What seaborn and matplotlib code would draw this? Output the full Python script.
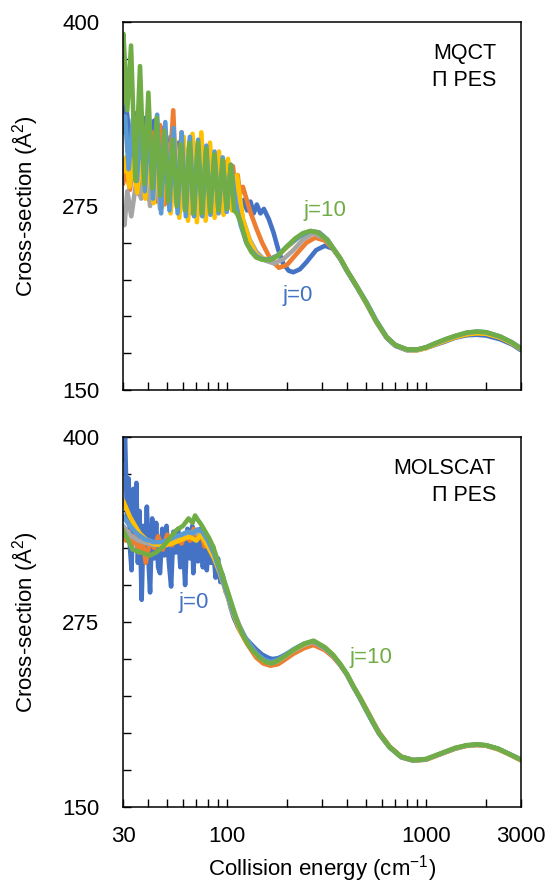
import pandas as pd
import matplotlib.pyplot as plt
import matplotlib as mtl
import seaborn as sns

# series (rotational level) and Excel-like colours
j_levels = ["j=0", "j=2", "j=4", "j=6", "j=8", "j=10"]
colors = ["#4472C4", "#ED7D31", "#A5A5A5", "#FFC000", "#5B9BD5", "#70AD47"]

# ---- MQCT panel (energies in cm-1, cross-sections in A^2) ----
# low-energy part, different for every j
mqct_E_j0 = [30, 31, 33, 35, 37, 39, 41, 43, 45, 47, 50, 52, 55, 57, 60, 63, 66, 69, 72, 76,
             80, 84, 88, 92, 96, 100, 105, 110, 116, 121, 126, 131, 136, 141, 147, 153, 162, 171, 181, 191,
             204, 215, 232, 251, 280, 310, 340]
mqct_j0 = [328, 345, 310, 338, 305, 335, 300, 333, 296, 328, 292, 322, 288, 318, 285, 313, 282, 308, 279, 303,
           276, 298, 274, 292, 271, 288, 280, 284, 272, 279, 272, 278, 270, 276, 270, 273, 266, 257, 245, 236,
           231, 230, 232, 237, 245, 248, 246]

mqct_E_j2 = [30, 31, 32.5, 34, 36, 38, 40, 42, 44, 46, 48.5, 51, 53.6, 56, 59, 62, 65, 68, 72, 76,
             80, 84, 88, 92, 97, 102, 107, 110, 113, 116, 120, 130, 140, 150, 165, 182, 200, 225, 250, 277,
             310, 340]
mqct_j2 = [290, 300, 286, 310, 283, 318, 280, 325, 278, 330, 276, 290, 340, 274, 325, 272, 320, 270, 316, 270,
           312, 271, 308, 272, 305, 274, 302, 285, 296, 283, 288, 272, 260, 250, 239, 233, 235, 243, 250, 253.5,
           251.5, 246]

mqct_E_j4 = [30, 30.5, 31.5, 33, 35, 37, 39, 41, 43.5, 46, 49, 52, 55, 58, 62, 66, 70, 74, 79, 84,
             89, 95, 101, 107, 113, 120, 130, 140, 155, 172, 192, 215, 240, 270, 310, 340]
mqct_j4 = [272, 262, 285, 268, 292, 280, 305, 275, 310, 273, 312, 272, 314, 271, 313, 270, 312, 269, 309, 270,
           305, 271, 300, 272, 285, 266, 252, 244, 238, 236, 239, 245, 252, 256.5, 253, 246.5]

mqct_E_j6 = [30, 31, 32.3, 33.8, 35.3, 37, 38.8, 40.7, 42.7, 44.8, 47, 49.5, 52, 54.6, 57.5, 60.5, 63.6, 67, 70.5, 74.2,
             78, 82, 86.5, 91, 96, 101, 106, 112, 120, 130, 140, 150, 162, 180, 200, 230, 263, 290, 320, 340]
mqct_j6 = [298, 308, 288, 306, 284, 310, 280, 313, 277, 316, 274, 318, 270, 320, 267, 322, 265, 324, 264, 325,
           265, 318, 267, 312, 269, 307, 272, 296, 266, 251, 242, 239.5, 238.5, 241.5, 247, 254, 258, 257, 252, 246.5]

mqct_E_j8 = [30, 30.7, 32, 33.6, 35.2, 36.9, 38.6, 40.5, 42.4, 44.5, 46.6, 48.9, 51.3, 53.8, 56.4, 59.1, 62, 65, 68.2, 71.5,
             75, 78.6, 82.4, 86.4, 90.6, 95, 99.6, 104.4, 110, 117, 125, 132, 140, 150, 162, 180, 200, 230, 263, 290,
             320, 340]
mqct_j8 = [325, 336, 300, 334, 292, 333, 285, 334, 280, 337, 270, 332, 272, 328, 270, 325, 268, 322, 268, 320,
           268, 316, 269, 312, 270, 308, 271, 303, 278, 262, 250, 245, 241, 239, 238.5, 241.5, 247.5, 254, 258, 257,
           252, 246.5]

mqct_E_j10 = [30, 30.1, 31.5, 32.9, 34.6, 36.5, 38.3, 40.2, 42.1, 44.3, 46.2, 48.4, 50.7, 53.3, 55.8, 58.7, 61.5, 64.6, 67.7, 71.2,
              74.6, 78.4, 82.1, 86.3, 90.4, 95.0, 99.6, 104.3, 108.4, 112, 117, 125, 132, 140, 150, 164, 180, 199, 220, 240,
              261, 285, 317, 340]
mqct_j10 = [345, 392, 340, 384, 292, 370, 290, 352, 287, 335, 282, 326, 278, 320, 275, 317, 272, 318, 270, 318,
            270, 314, 271, 310, 272, 306, 273, 303, 272, 270, 264, 250, 244, 240, 238.5, 238.3, 241, 247.4, 253, 256.5,
            258, 257, 252, 246.5]

# high-energy part: the curves nearly coincide
mqct_tail_E = [370, 399, 450, 502, 560, 632, 700, 800, 900, 1000, 1100, 1250, 1400, 1600, 1800, 2000, 2350, 2700, 3000]
mqct_tail_j0 = [239, 231, 219.5, 208.5, 196.5, 185.5, 180, 177, 177, 178.5, 180.5, 183, 185.5, 187.2, 187.5, 187, 184.5, 181, 177]
mqct_tail_j2 = [239.5, 231.5, 220, 209, 197, 186, 180.5, 177.5, 177.3, 178.8, 181, 183.8, 186.2, 188.3, 189, 188.6, 186, 182, 178]
mqct_tail_j4 = [239.5, 231.5, 220, 209, 197, 186, 180.5, 177.6, 177.4, 179, 181.3, 184.2, 186.6, 188.8, 189.5, 189.1, 186.3, 182.3, 178.3]
mqct_tail_j6 = [239.5, 231.5, 220, 209, 197, 186, 180.5, 177.2, 177, 178.5, 180.8, 183.5, 185.8, 187.8, 188.5, 188.2, 185.6, 181.7, 177.8]
mqct_tail_j8 = [239.5, 231.5, 220, 209.5, 197.5, 186.2, 180.6, 177.5, 177.4, 179, 181.4, 184.3, 186.6, 188.9, 189.6, 189.2, 186.3, 182.3, 178.2]
mqct_tail_j10 = [239.5, 231.5, 220, 209, 197, 186, 180.5, 177.6, 177.5, 179, 181.5, 184.5, 186.8, 189, 189.7, 189.3, 186.4, 182.3, 178]

# ---- MOLSCAT panel ----
mol_E_j0 = [30, 30.7, 31.4, 32.0, 32.5, 33.1, 33.8, 34.4, 35.0, 35.6, 36.3, 37.2, 38.0, 38.8, 39.5, 40.2, 41.0, 42.0, 43.0, 44.0,
            45.0, 46.0, 47.2, 48.4, 49.6, 51.0, 52.3, 53.7, 55.2, 56.7, 58.2, 59.8, 61.5, 63.2, 65.0, 66.8, 67.6, 69.5, 71.5, 73.5,
            75.5, 77.2, 79.0, 81.0, 83.0, 85.0, 87.5, 90.0, 92.5, 95.0, 98.0, 101, 104, 108, 113, 118, 124, 130, 140, 150,
            160, 168, 180, 190, 205, 215, 230, 245, 272, 310, 340]
mol_j0 = [385, 400, 345, 372, 325, 310, 365, 330, 369, 315, 350, 290, 340, 320, 353, 318, 295, 345, 318, 342,
          312, 308, 338, 320, 340, 315, 299, 336, 322, 338, 312, 334, 300, 338, 318, 340, 308, 332, 316, 338,
          312, 332, 310, 330, 315, 326, 305, 318, 302, 307, 296, 292, 285, 278, 272, 268, 264, 261, 256.5, 253,
          251, 250, 250.5, 252, 254.5, 256, 258.5, 260, 261.5, 257, 252.5]

mol_E_j2 = [30, 31, 32, 33.2, 34.5, 36, 37.5, 39, 41, 43, 45, 47.5, 50, 53, 56, 59, 62, 65, 68, 71,
            74, 77, 80, 84, 88, 93, 100, 107, 115, 125, 140, 152, 165, 180, 190, 215, 245, 272, 310, 340]
mol_j2 = [338, 330, 336, 326, 334, 322, 332, 315, 330, 325, 333, 324, 334, 327, 333, 328, 335, 330, 338, 332,
          335, 326, 330, 322, 316, 306, 294, 282, 270, 261, 251, 247, 245.5, 246.5, 248.5, 253.5, 257.5, 259.5, 256, 251.5]

mol_E_j4 = [30, 33, 36, 40, 44, 48, 52, 56, 60, 64, 68, 72, 76, 81, 87, 93, 100, 107, 115, 125,
            140, 152, 165, 180, 190, 215, 245, 272, 310, 340]
mol_j4 = [340, 333, 330, 328, 327, 328, 330, 332, 334, 335, 336, 334, 333, 328, 320, 310, 296, 284, 273, 263,
          254, 249.5, 247, 248.5, 250.5, 255.5, 259.5, 261.5, 257, 252.5]

mol_E_j6 = [30, 32.5, 34.5, 36.3, 39, 42.5, 46, 49.6, 55, 60, 65, 70, 74, 80, 86, 92, 100, 107, 115, 125,
            140, 152, 165, 180, 190, 215, 245, 272, 310, 340]
mol_j6 = [357, 346, 340, 335, 331, 328, 327, 327, 329, 331, 332.6, 330, 334, 326, 318, 308, 293, 281, 271, 262,
          253, 249, 247.5, 249, 251, 256, 260, 262, 257.5, 252.5]

mol_E_j8 = [30, 32, 35, 38.5, 42.5, 46, 50, 55, 59, 63, 67, 71, 75, 80, 86, 92, 100, 107, 115, 125,
            140, 152, 165, 180, 190, 215, 245, 272, 310, 340]
mol_j8 = [346.5, 341, 335, 331, 329, 329, 330, 333, 334, 336, 335, 337.6, 336, 330, 321, 309, 294, 282, 272, 263,
          254, 250, 248, 249.5, 251.5, 256.5, 260.5, 262, 257.5, 252.5]

mol_E_j10 = [30, 33.5, 37, 41, 44, 47.6, 51, 55.5, 60, 64, 67, 69, 71.3, 74, 77, 81, 85, 90, 95.6, 100,
             105, 112, 120, 130, 145, 156, 168, 180, 190, 215, 245, 272, 310, 340]
mol_j10 = [337, 324, 322, 320, 322, 326, 331, 337, 340, 345, 342, 347, 344, 341, 337, 332, 326, 316, 305, 297,
           288, 276, 266, 258, 251, 248, 247, 249, 251, 256, 260.5, 262.4, 258, 253]

mol_tail_E = [369, 400, 430, 465, 502, 540, 580, 655, 750, 861, 1000, 1168, 1400, 1600, 1800, 2000, 2300, 2600, 3000]
mol_tail_j0 = [246.5, 239.5, 231.5, 223.5, 215, 207, 200, 190.5, 184, 181.8, 182.3, 185.6, 189.5, 191.5, 192, 191.5, 189.3, 186, 182]
mol_tail_j2 = [246, 239.5, 231.5, 224, 216, 208, 200.5, 191, 184, 181.5, 182, 185.5, 189.5, 191.4, 192, 191.5, 189, 185.8, 181.5]
mol_tail_j4 = [246.5, 239.5, 231.5, 223.5, 215.5, 207.5, 200, 190.5, 183.8, 181.5, 182.2, 185.7, 189.7, 191.6, 192.2, 191.7, 189.3, 186, 181.8]
mol_tail_j6 = [246.5, 239.5, 231.5, 223.5, 215, 207, 199.5, 190.2, 183.5, 181.2, 182, 185.5, 189.5, 191.4, 192, 191.5, 189, 185.8, 181.5]
mol_tail_j8 = [246.5, 239.5, 231.5, 223.5, 215, 207, 199.5, 190.3, 183.6, 181.4, 182.2, 185.7, 189.7, 191.6, 192.2, 191.7, 189.3, 186, 181.8]
mol_tail_j10 = [247, 240, 232, 224, 215.5, 207.5, 200, 190.7, 184, 181.8, 182.5, 186, 190, 191.8, 192.4, 191.8, 189.5, 186, 182]

x_ticks = [30, 100, 1000, 3000]
x_minor = [40, 50, 60, 70, 80, 90, 200, 300, 400, 500, 600, 700, 800, 900, 2000]
y_ticks = [150, 275, 400]
y_minor = [175, 200, 225, 250, 300, 325, 350, 375]


def long_frame(series, tail_E):
    frames = []
    for lab, E, s, tail in series:
        frames.append(pd.DataFrame({"E": list(E) + tail_E, "sigma": list(s) + tail, "j": lab}))
    return pd.concat(frames, ignore_index=True)


mqct = long_frame([("j=0", mqct_E_j0, mqct_j0, mqct_tail_j0), ("j=2", mqct_E_j2, mqct_j2, mqct_tail_j2),
                   ("j=4", mqct_E_j4, mqct_j4, mqct_tail_j4), ("j=6", mqct_E_j6, mqct_j6, mqct_tail_j6),
                   ("j=8", mqct_E_j8, mqct_j8, mqct_tail_j8), ("j=10", mqct_E_j10, mqct_j10, mqct_tail_j10)],
                  mqct_tail_E)
mol = long_frame([("j=0", mol_E_j0, mol_j0, mol_tail_j0), ("j=2", mol_E_j2, mol_j2, mol_tail_j2),
                  ("j=4", mol_E_j4, mol_j4, mol_tail_j4), ("j=6", mol_E_j6, mol_j6, mol_tail_j6),
                  ("j=8", mol_E_j8, mol_j8, mol_tail_j8), ("j=10", mol_E_j10, mol_j10, mol_tail_j10)],
                 mol_tail_E)

sns.set_style("white")
plt.rcParams['font.family'] = ['Liberation Sans', 'DejaVu Sans']
plt.rcParams['mathtext.fontset'] = 'custom'
plt.rcParams['mathtext.rm'] = 'Liberation Sans'
plt.rcParams['mathtext.default'] = 'regular'
plt.rcParams['text.color'] = 'black'
plt.rcParams['axes.labelcolor'] = 'black'

fig = plt.figure(figsize=(5.47, 8.89), dpi=100)
ax1 = fig.add_axes([0.225, 0.5613, 0.7276, 0.414])
ax2 = fig.add_axes([0.225, 0.0922, 0.7276, 0.4162])

fs = 16
for ax, df, name in [(ax1, mqct, "MQCT"), (ax2, mol, "MOLSCAT")]:
    sns.lineplot(data=df, x="E", y="sigma", hue="j", hue_order=j_levels, palette=colors,
                 estimator=None, sort=False, lw=3.3, legend=False, ax=ax)
    ax.set_xscale('log')
    ax.set_xlim(30, 3000)
    ax.set_ylim(150, 400)
    ax.set_xticks(x_ticks)
    ax.set_xticks(x_minor, minor=True)
    ax.xaxis.set_minor_formatter(mtl.ticker.NullFormatter())
    ax.set_xticklabels([str(t) for t in x_ticks])
    ax.set_yticks(y_ticks)
    ax.set_yticks(y_minor, minor=True)
    ax.tick_params(axis='both', which='both', direction='in', length=6, width=1,
                   labelsize=fs, colors='black', bottom=True, left=True, top=False, right=False)
    ax.tick_params(axis='y', which='major', pad=17)
    ax.tick_params(axis='x', which='major', pad=14)
    for sp in ax.spines.values():
        sp.set_visible(True)
        sp.set_color('black')
        sp.set_linewidth(1.1)
    ax.set_ylabel("Cross-section (Å$^2$)", fontsize=fs)
    ax.yaxis.set_label_coords(-0.208, 0.5)
    ax.set_xlabel("")
    ax.text(0.937, 0.899, name, transform=ax.transAxes, ha='right', va='baseline', fontsize=15.5)
    ax.text(0.937, 0.826, "Π PES", transform=ax.transAxes, ha='right', va='baseline', fontsize=15.5)

ax1.set_xticklabels([])
ax2.set_xlabel("Collision energy (cm$^{-1}$)", fontsize=fs, labelpad=4)

ax1.text(243, 272, "j=10", color=colors[5], fontsize=fs, va='center')
ax1.text(189, 214, "j=0", color=colors[0], fontsize=fs, va='center')
ax2.text(57, 288, "j=0", color=colors[0], fontsize=fs, va='center')
ax2.text(414, 251, "j=10", color=colors[5], fontsize=fs, va='center')

fig.savefig('out.png', dpi=100)
